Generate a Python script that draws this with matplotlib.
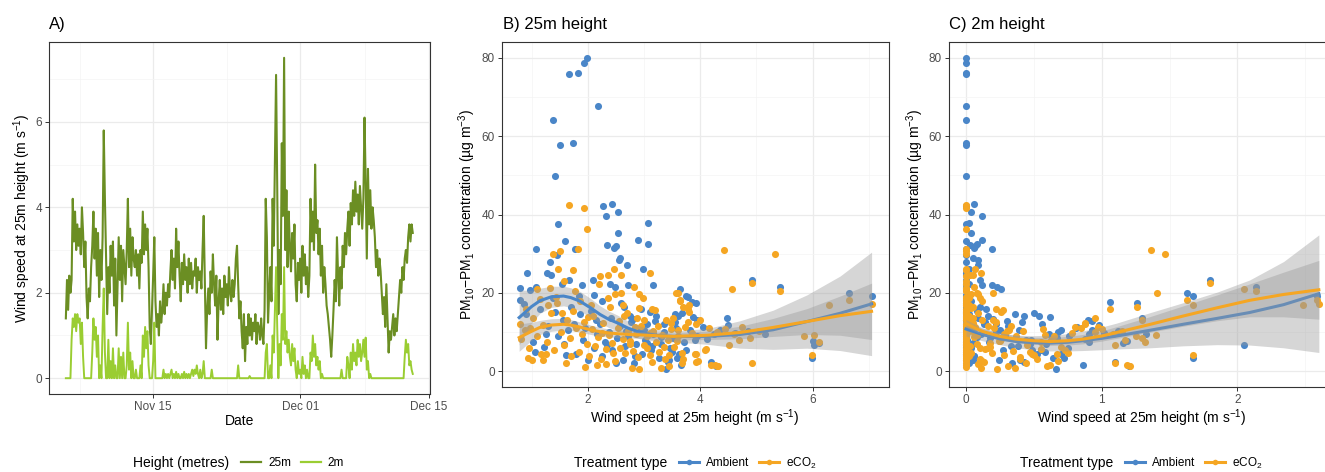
import numpy as np
import pandas as pd
import matplotlib
matplotlib.use('Agg')
import matplotlib.pyplot as plt
from matplotlib.lines import Line2D

plt.rcParams['font.family'] = ['Liberation Sans', 'DejaVu Sans']
plt.rcParams['mathtext.fontset'] = 'custom'
plt.rcParams['mathtext.rm'] = 'Liberation Sans'
plt.rcParams['mathtext.it'] = 'Liberation Sans:italic'

# ── Panel A: 3-hourly wind speed, starting 5 Nov 12:00 ─────────────────────
ws_25m = [
    1.4, 2.3, 1.6, 2.4,                              # Nov 05 (12h-21h)
    2.0, 2.3, 4.2, 3.2, 3.9, 3.0, 3.6, 3.1,          # Nov 06
    3.5, 2.9, 4.0, 3.4, 2.6, 3.2, 1.9, 1.4,
    2.1, 1.8, 2.6, 3.1, 3.9, 2.8, 3.5, 2.4,
    3.4, 1.9, 3.0, 2.3, 3.3, 5.8, 4.2, 2.9,
    1.5, 2.6, 2.0, 3.1, 2.4, 3.2, 1.7, 2.8,          # Nov 10
    1.0, 2.2, 3.3, 2.3, 3.1, 1.8, 3.0, 2.6,
    2.2, 3.0, 4.2, 2.6, 3.5, 2.4, 3.3, 2.8,
    2.6, 3.0, 2.4, 2.9, 2.1, 3.0, 2.7, 3.9,
    2.9, 3.6, 3.0, 3.5, 2.6, 1.2, 0.8, 1.6,
    2.4, 3.3, 1.8, 1.2, 1.5, 1.0, 1.8, 1.3,          # Nov 15
    1.6, 2.2, 1.5, 2.0, 1.7, 2.2, 1.9, 2.5,
    3.0, 2.3, 2.8, 2.1, 3.5, 2.6, 3.2, 2.4,
    1.8, 2.7, 2.2, 2.9, 2.3, 2.6, 2.0, 2.8,
    2.2, 2.7, 2.1, 2.5, 2.4, 2.8, 2.0, 2.6,
    2.3, 2.5, 2.1, 3.0, 3.8, 2.2, 0.7, 1.6,          # Nov 20
    2.1, 1.5, 2.5, 2.0, 2.9, 2.2, 1.7, 2.4,
    0.9, 1.8, 2.3, 1.6, 2.1, 1.5, 2.4, 1.9,
    2.2, 1.7, 2.6, 2.0, 1.8, 2.3, 1.9, 2.2,
    2.8, 3.1, 2.2, 1.4, 1.8, 1.1, 0.7, 1.5,
    0.4, 1.2, 0.8, 1.5, 1.0, 1.4, 0.9, 1.3,          # Nov 25
    1.1, 1.5, 0.8, 1.3, 1.2, 0.9, 1.4, 1.0,
    0.8, 1.6, 4.2, 3.3, 1.3, 2.0, 2.6, 1.8,
    4.2, 3.1, 5.2, 7.1, 4.5, 1.5, 3.0, 2.2,
    5.5, 3.8, 7.5, 3.0, 4.4, 2.6, 3.9, 3.1,
    2.5, 3.4, 2.8, 3.6, 2.2, 1.8, 2.7, 2.3,          # Nov 30
    2.8, 2.0, 3.1, 2.4, 2.9, 2.2, 2.6, 1.9,          # Dec 01
    2.4, 4.2, 3.2, 3.9, 3.0, 5.0, 3.4, 3.7,
    2.9, 3.5, 2.4, 3.1, 2.0, 2.6, 2.2, 1.7,
    1.5, 1.2, 0.9, 0.5, 1.0, 1.6, 2.3, 1.8,
    3.3, 2.4, 1.7, 2.6, 2.1, 3.1, 2.6, 3.4,          # Dec 05
    2.9, 3.5, 3.9, 3.1, 4.1, 3.6, 4.4, 3.8,
    4.6, 3.9, 4.3, 3.6, 4.5, 4.0, 3.5, 4.2,
    6.1, 4.6, 2.8, 4.9, 3.6, 4.4, 3.5, 4.0,
    3.7, 3.3, 2.6, 3.0, 2.4, 2.8, 2.5, 2.0,
    1.5, 1.9, 1.2, 2.2, 1.4, 0.6, 1.1, 0.9,          # Dec 10
    1.2, 1.5, 1.0, 1.4, 1.1, 1.5, 1.9, 2.3,
    2.0, 2.6, 2.3, 2.8, 3.0, 2.7, 3.3, 3.6,
    3.2, 3.6, 3.4,                                   # Dec 13
]
ws_2m = [
    0, 0, 0, 0,
    0, 0.9, 1.4, 1.2, 1.5, 1.1, 1.5, 1.3,
    1.4, 0.8, 1.3, 0.5, 0, 0, 0, 0,
    0, 0, 0, 0.6, 1.4, 0.9, 1.2, 0.5,
    1.0, 0, 0.3, 0, 1.2, 2.1, 0.6, 0,
    0, 0.9, 0, 0.4, 0, 0.7, 0, 0.3,
    0, 0, 0.7, 0, 0.5, 0, 0.6, 0,
    0, 0.3, 1.3, 0.2, 0.6, 0, 0.4, 0,
    0, 0.2, 0, 0, 0, 0.3, 0, 1.0,
    0.5, 1.2, 0.7, 1.1, 0.3, 0, 0, 0,
    0.4, 1.3, 0, 0, 0, 0, 0, 0,
    0, 0.2, 0, 0.1, 0, 0.1, 0, 0.1,
    0.2, 0, 0.1, 0, 0.15, 0, 0.1, 0,
    0, 0.1, 0, 0.15, 0, 0.1, 0, 0.1,
    0, 0.1, 0.2, 0.05, 0.2, 0.1, 0.3, 0.1,
    0, 0.2, 0, 0.1, 0.4, 0, 0, 0,
    0, 0, 0, 0.2, 0, 0, 0, 0,
    0, 0, 0, 0, 0, 0, 0, 0,
    0, 0, 0, 0, 0, 0, 0, 0,
    0, 0, 0.3, 0, 0, 0, 0, 0,
    0, 0, 0, 0, 0.05, 0, 0, 0,
    0, 0, 0, 0, 0, 0, 0, 0,
    0, 0, 0.6, 0.8, 0, 0, 0.3, 0,
    1.0, 0.6, 1.6, 2.6, 1.2, 0, 0.8, 0.3,
    1.5, 0.9, 2.6, 0.8, 1.1, 0.6, 0.9, 0.5,
    0.3, 0.8, 0.4, 0.7, 0.2, 0, 0.4, 0.1,
    0.2, 0, 0.5, 0.1, 0.3, 0, 0.2, 0,
    0, 0.6, 0.4, 1.0, 0.5, 0.8, 0.3, 0.5,
    0.2, 0.4, 0, 0.1, 0, 0, 0, 0,
    0, 0, 0, 0, 0, 0, 0, 0,
    0, 0, 0, 0, 0.2, 0, 0, 0,
    0, 0.5, 0.3, 0, 0.6, 0.2, 0.8, 0.4,
    0.6, 0.3, 0.9, 0.5, 0.8, 0.4, 0.6, 0.9,
    0.5, 0.95, 0.2, 0.4, 0, 0.1, 0, 0,
    0, 0, 0, 0, 0, 0, 0, 0,
    0, 0, 0, 0, 0, 0, 0, 0,
    0, 0, 0, 0, 0, 0, 0, 0,
    0, 0, 0, 0.5, 0.9, 0.6, 0.8, 0.3,
    0.4, 0.2, 0.1,
]

# ── Panels B/C: PM10-PM1 vs wind speed at 25m and 2m, per treatment ───────
amb_ws25 = [1.98, 1.93, 1.82, 1.66, 2.18, 1.38, 1.50, 1.73, 1.42, 2.27,
            2.43, 2.54, 2.32, 1.48, 3.07, 2.54, 2.89, 3.08, 1.60, 2.34,
            2.46, 2.50, 1.08, 1.77, 1.45, 1.33, 2.56, 2.57, 2.70, 2.98,
            1.27, 1.34, 0.92, 3.17, 2.09, 2.48, 1.67, 1.54, 0.79, 1.08,
            0.98, 3.64, 2.72, 3.78, 2.12, 1.84, 0.80, 0.86, 1.39, 4.93,
            5.42, 7.05, 6.65, 3.74, 6.02, 5.99, 4.20, 4.28, 4.47, 3.92,
            3.86, 6.00, 6.12, 4.35, 4.62, 4.05, 4.85, 5.15, 3.95, 4.12,
            4.50, 3.82, 4.25, 3.55, 3.60, 3.68, 3.88, 3.42, 3.50, 3.62,
            3.95, 3.98, 3.40, 3.58, 3.20, 3.00, 2.80, 2.75, 1.02, 1.06,
            1.15, 1.22, 1.30, 1.41, 1.47, 1.56, 1.62, 1.65, 1.71, 1.76,
            1.80, 1.87, 1.91, 1.96, 2.01, 2.06, 2.11, 2.16, 2.21, 2.26,
            2.31, 2.37, 2.41, 2.44, 2.52, 2.58, 2.62, 2.66, 2.71, 2.77,
            2.83, 2.86, 2.91, 2.96, 3.02, 3.06, 3.12, 3.16, 3.22, 3.26,
            3.31, 3.36, 3.46, 3.52, 3.57, 3.66, 3.72, 3.10, 2.60, 2.40,
            1.90, 2.25, 2.65, 2.95, 3.35, 3.15, 2.85, 2.50, 3.45, 3.75,
            3.90, 2.15, 1.58, 1.25, 0.90, 3.55, 3.30, 2.68, 3.05, 2.35]
amb_ws2 = [0, 0, 0, 0, 0, 0, 0, 0, 0, 0,
           0.06, 0.04, 0.12, 0, 0.02, 0.04, 0.12, 0.08, 0, 0.03,
           0.06, 0.07, 0, 0.19, 0, 0, 0.09, 0.05, 0.09, 0.02,
           0, 0, 0, 0.12, 0.10, 0.23, 0, 0, 0, 0,
           0, 0.26, 0.19, 0.02, 0, 0, 0, 0, 0, 1.80,
           2.14, 2.59, 1.63, 1.67, 2.05, 1.67, 1.10, 1.20, 1.30, 1.26,
           1.06, 1.19, 1.16, 0.93, 1.02, 0.82, 1.12, 1.33, 0.76, 0.88,
           0.98, 0.70, 0.91, 0.36, 0.43, 0.50, 0.62, 0.43, 0.58, 0.70,
           0.90, 0.93, 0.66, 0.72, 0.30, 0.25, 0.20, 0.16, 0, 0,
           0, 0, 0, 0, 0, 0, 0, 0, 0, 0,
           0, 0.02, 0.01, 0.03, 0.05, 0.08, 0.04, 0.11, 0.13, 0.06,
           0.17, 0.22, 0.09, 0.27, 0.18, 0.31, 0.24, 0.38, 0.29, 0.41,
           0.34, 0.47, 0.39, 0.52, 0.44, 0.56, 0.49, 0.61, 0.54, 0.64,
           0.59, 0.68, 0.75, 0.67, 0.81, 0.86, 0.91, 0, 0, 0.02,
           0, 0.04, 0.10, 0.15, 0.22, 0.33, 0.06, 0.02, 0.40, 0.55,
           0.48, 0, 0, 0, 0, 0.14, 0.08, 0, 0.05, 0]
amb_pm = [80.0, 78.6, 76.2, 75.9, 67.6, 64.0, 57.8, 58.2, 49.8, 42.2,
          42.6, 40.6, 39.5, 37.5, 37.8, 35.3, 33.6, 32.4, 33.3, 32.3,
          31.5, 32.0, 31.1, 31.1, 29.7, 27.8, 28.3, 28.9, 27.0, 26.1,
          25.1, 24.6, 25.1, 21.9, 23.3, 21.5, 23.4, 22.3, 21.2, 21.5,
          20.8, 21.0, 22.0, 19.0, 19.4, 19.2, 18.3, 17.1, 18.7, 23.4,
          21.6, 19.3, 20.0, 19.1, 6.7, 3.5, 2.5, 1.4, 13.7, 17.3,
          17.8, 7.8, 7.3, 10.5, 9.8, 11.2, 10.3, 9.6, 9.1, 8.2,
          11.8, 10.6, 9.4, 14.6, 14.0, 15.0, 13.8, 2.3, 5.0, 4.5,
          13.0, 12.8, 0.5, 3.5, 12.8, 10.5, 13.3, 14.2, 7.5, 5.0,
          16.0, 6.2, 11.5, 15.2, 9.0, 13.0, 4.2, 10.5, 16.5, 12.0,
          4.3, 14.5, 8.0, 11.0, 3.0, 15.5, 6.0, 9.5, 12.0, 4.0,
          7.5, 10.0, 13.5, 5.5, 8.5, 11.5, 3.0, 6.5, 9.0, 12.5,
          2.0, 7.0, 10.5, 4.5, 8.0, 12.0, 5.5, 9.5, 14.0, 3.5,
          7.0, 10.0, 6.0, 8.5, 11.0, 1.5, 7.5, 15.2, 17.5, 22.2,
          22.0, 18.0, 16.5, 15.8, 12.0, 6.5, 4.0, 2.0, 3.0, 5.5,
          8.0, 13.0, 7.0, 9.5, 14.5, 12.5, 8.8, 10.2, 7.2, 6.8]

eco_ws25 = [4.42, 5.33, 4.93, 5.42, 4.56, 6.29, 6.65, 7.05, 5.84, 6.02,
            5.99, 4.93, 4.20, 4.30, 4.52, 4.69, 4.88, 3.90, 3.96, 4.09,
            6.12, 3.60, 3.65, 3.81, 3.78, 3.70, 4.00, 4.30, 4.60, 4.15,
            3.85, 4.45, 5.05, 4.75, 3.93, 1.66, 1.93, 1.98, 1.82, 1.38,
            1.50, 1.73, 1.48, 2.22, 2.36, 2.47, 2.59, 3.10, 1.33, 1.09,
            0.90, 2.82, 2.91, 2.99, 3.57, 3.65, 3.81, 3.78, 2.36, 2.48,
            2.59, 3.15, 3.20, 2.87, 0.93, 1.00, 1.26, 2.17, 2.78, 2.91,
            3.44, 3.68, 3.93, 4.11, 3.93, 4.26, 4.31, 0.80, 0.82, 0.88,
            0.95, 1.03, 1.10, 1.16, 1.21, 1.28, 1.35, 1.40, 1.46, 1.52,
            1.58, 1.63, 1.69, 1.74, 1.79, 1.84, 1.89, 1.94, 1.99, 2.03,
            2.08, 2.13, 2.18, 2.23, 2.28, 2.33, 2.38, 2.43, 2.48, 2.53,
            2.57, 2.62, 2.67, 2.72, 2.76, 2.81, 2.86, 2.90, 2.95, 3.00,
            3.05, 3.11, 3.16, 3.21, 3.27, 3.32, 3.38, 3.43, 3.49, 3.54,
            3.61, 3.67, 3.73, 3.48, 3.52, 1.57, 1.43, 1.86, 2.05, 1.20,
            1.62, 2.32, 3.30, 2.65, 2.10, 2.40, 2.70, 3.00, 3.25, 3.40,
            3.60, 2.25, 2.55, 2.85, 3.15, 3.35, 3.58, 3.70, 1.70, 1.95,
            2.45, 2.75, 3.05, 3.45, 1.30, 1.15, 0.98, 1.55, 1.78, 2.00,
            2.20, 2.62, 2.92, 3.10]
eco_ws2 = [1.36, 1.47, 1.80, 2.14, 2.05, 2.48, 2.59, 2.60, 1.25, 1.40,
           1.67, 1.10, 1.19, 1.21, 1.10, 1.17, 1.30, 0.67, 0.68, 0.73,
           1.32, 1.41, 1.63, 1.67, 1.06, 1.26, 1.30, 0.95, 1.08, 0.85,
           0.78, 1.00, 1.15, 0.97, 0.88, 0, 0, 0, 0, 0,
           0, 0, 0, 0, 0.05, 0.07, 0.03, 0.11, 0, 0,
           0, 0.06, 0.09, 0.10, 0.20, 0.12, 0.26, 0.22, 0.02, 0.04,
           0.08, 0.22, 0.27, 0.05, 0, 0, 0, 0, 0.11, 0.23,
           0.31, 0.44, 0.10, 0.55, 0.49, 0.62, 0.60, 0, 0, 0,
           0, 0, 0, 0, 0, 0, 0, 0, 0, 0,
           0, 0, 0, 0, 0, 0, 0, 0.01, 0, 0.02,
           0.04, 0.03, 0.06, 0.10, 0.05, 0.14, 0.08, 0.18, 0.12, 0.21,
           0.16, 0.26, 0.19, 0.30, 0.25, 0.35, 0.28, 0.40, 0.33, 0.45,
           0.37, 0.50, 0.42, 0.55, 0.47, 0.58, 0.52, 0.63, 0.57, 0.70,
           0.65, 0.75, 0.80, 0.88, 0.95, 0, 0, 0, 0, 0,
           0, 0.09, 0.36, 0, 0.02, 0.05, 0.09, 0.12, 0.16, 0.20,
           0.32, 0.01, 0.03, 0.07, 0.13, 0.18, 0.24, 0.40, 0, 0,
           0.04, 0.08, 0.10, 0.28, 0, 0, 0, 0, 0, 0,
           0, 0.02, 0.04, 0.06]
eco_pm = [31.0, 30.0, 22.6, 20.6, 20.9, 17.0, 18.3, 17.1, 9.0, 9.2,
          4.2, 2.0, 1.6, 1.3, 6.6, 8.0, 8.4, 4.5, 2.6, 5.5,
          7.5, 20.0, 18.2, 17.0, 15.8, 16.4, 13.0, 10.0, 9.5, 11.0,
          9.8, 10.8, 10.2, 11.4, 12.0, 42.5, 41.6, 36.4, 31.1, 29.9,
          30.7, 25.9, 26.0, 24.2, 24.5, 26.2, 24.5, 25.2, 21.2, 20.9,
          16.0, 21.4, 19.6, 18.8, 20.1, 18.0, 15.2, 12.7, 18.8, 19.6,
          20.1, 16.0, 15.6, 13.5, 3.5, 3.0, 4.3, 1.6, 0.8, 0.6,
          1.3, 2.0, 2.5, 5.6, 4.3, 1.6, 1.3, 12.0, 8.3, 10.5,
          6.0, 13.5, 9.0, 4.5, 11.8, 7.5, 14.8, 5.5, 17.5, 10.0,
          6.8, 13.0, 8.5, 15.5, 11.0, 5.0, 9.5, 12.5, 7.0, 4.0,
          10.8, 6.5, 8.8, 3.2, 12.2, 5.8, 9.2, 7.2, 2.6, 11.0,
          6.0, 8.2, 4.8, 10.2, 7.8, 5.2, 9.6, 3.6, 11.6, 6.8,
          8.9, 4.2, 10.4, 7.4, 5.0, 9.3, 3.1, 8.0, 10.8, 6.3,
          9.0, 4.8, 11.3, 12.3, 13.6, 23.0, 19.0, 18.0, 16.8, 2.8,
          2.2, 1.8, 0.9, 14.2, 14.0, 16.5, 14.8, 13.2, 11.5, 13.0,
          10.5, 9.8, 12.8, 11.2, 2.4, 6.2, 7.8, 3.2, 3.8, 1.2,
          4.6, 6.9, 5.9, 4.1, 16.8, 18.5, 11.0, 15.0, 20.5, 13.8,
          22.3, 17.0, 16.2, 9.9]

# smoothed fits (loess) with standard-error half widths
fitB_x = [0.78, 1.0, 1.15, 1.35, 1.57, 1.7, 1.86, 2.05, 2.22, 2.37, 2.52,
          2.72, 2.93, 3.2, 3.52, 4.12, 4.71, 5.30, 5.90, 6.49, 7.05]
fitB_amb = [13.7, 16.5, 18.0, 19.0, 19.2, 18.8, 17.9, 16.2, 14.5, 13.3, 12.4,
            11.0, 9.9, 9.2, 8.9, 8.9, 9.4, 10.6, 12.7, 14.8, 17.2]
seB_amb = [7.0, 4.2, 3.2, 2.7, 2.5, 2.5, 2.5, 2.4, 2.2, 2.1, 2.0,
           1.8, 1.6, 1.5, 1.4, 2.0, 3.5, 5.0, 6.8, 9.5, 13.2]
fitB_eco = [8.6, 10.2, 11.2, 11.8, 12.0, 11.8, 11.3, 10.6, 10.1, 9.8, 9.6,
            9.4, 9.3, 9.1, 8.9, 9.2, 9.9, 11.2, 12.7, 14.2, 15.3]
seB_eco = [3.5, 2.3, 1.8, 1.6, 1.5, 1.4, 1.3, 1.2, 1.1, 1.0, 1.0,
           0.9, 0.9, 0.9, 0.9, 1.1, 1.6, 2.3, 3.3, 5.0, 7.2]

fitC_x = [0.0, 0.12, 0.25, 0.37, 0.5, 0.62, 0.75, 0.86, 1.0, 1.11,
          1.36, 1.6, 1.85, 2.09, 2.34, 2.6]
fitC_amb = [10.8, 9.4, 8.3, 7.6, 7.3, 7.2, 7.4, 7.8, 8.4, 9.0,
            10.5, 12.0, 13.5, 15.0, 17.0, 19.8]
seC_amb = [1.8, 1.6, 1.5, 1.6, 1.8, 2.0, 2.2, 2.5, 2.9, 3.3,
           4.5, 5.5, 6.7, 8.3, 11.0, 15.0]
fitC_eco = [12.2, 10.2, 8.9, 8.2, 7.8, 7.6, 7.8, 8.2, 9.0, 9.9,
            12.0, 14.1, 16.2, 18.1, 19.6, 20.8]
seC_eco = [1.0, 0.9, 0.9, 0.9, 0.9, 1.0, 1.1, 1.2, 1.3, 1.5,
           2.0, 2.6, 3.3, 4.2, 5.7, 7.5]

# ── colours / figure ──────────────────────────────────────────────────────
C25, C2 = '#6B8E23', '#9ACD32'
CAMB, CECO = '#4A86C8', '#F5A623'
TICK_C = '#4D4D4D'

W, H = 1325, 472
fig = plt.figure(figsize=(W / 100, H / 100), dpi=100)

def box(l, t, r, b):
    return [l / W, 1 - b / H, (r - l) / W, (b - t) / H]

ax_a = fig.add_axes(box(49, 42, 430, 394))
ax_b = fig.add_axes(box(502, 42, 889, 387))
ax_c = fig.add_axes(box(949, 42, 1327, 387))

def style(ax):
    for s in ax.spines.values():
        s.set_color('#333333')
        s.set_linewidth(0.8)
    ax.grid(which='major', color='#EBEBEB', lw=0.9)
    ax.grid(which='minor', color='#F4F4F4', lw=0.5)
    ax.set_axisbelow(True)
    ax.tick_params(which='major', length=3, width=0.7, color='#333333',
                   labelsize=8.5, labelcolor=TICK_C, pad=2)
    ax.tick_params(which='minor', length=0)

# ── A ──
times = pd.date_range('2019-11-05 12:00', periods=len(ws_25m), freq='3h')
ax_a.plot(times, ws_25m, color=C25, lw=1.5, zorder=3)
ax_a.plot(times, ws_2m, color=C2, lw=1.4, zorder=4)
ax_a.set_xlim(pd.Timestamp('2019-11-03 16:00'), pd.Timestamp('2019-12-15 03:00'))
ax_a.set_ylim(-0.37, 7.87)
ax_a.set_xticks(pd.to_datetime(['2019-11-15', '2019-12-01', '2019-12-15']))
ax_a.set_xticklabels(['Nov 15', 'Dec 01', 'Dec 15'])
ax_a.set_xticks(pd.to_datetime(['2019-11-07', '2019-11-23', '2019-12-08']), minor=True)
ax_a.set_yticks([0, 2, 4, 6])
ax_a.set_yticks([1, 3, 5, 7], minor=True)
style(ax_a)

# ── B / C ──
def scatter_panel(ax, xa, xe, fx, fa, sa, fe, se):
    ax.scatter(xa, amb_pm, s=26, color=CAMB, linewidths=0, zorder=2)
    ax.scatter(xe, eco_pm, s=26, color=CECO, linewidths=0, zorder=2)
    fx, fa, sa, fe, se = map(np.asarray, (fx, fa, sa, fe, se))
    ax.fill_between(fx, fa - sa, fa + sa, color='#999999', alpha=0.4, lw=0, zorder=3)
    ax.plot(fx, fa, color=CAMB, lw=2.2, zorder=4)
    ax.fill_between(fx, fe - se, fe + se, color='#999999', alpha=0.4, lw=0, zorder=5)
    ax.plot(fx, fe, color=CECO, lw=2.2, zorder=6)
    ax.set_ylim(-4, 84)
    ax.set_yticks([0, 20, 40, 60, 80])
    ax.set_yticks([10, 30, 50, 70], minor=True)
    style(ax)

scatter_panel(ax_b, amb_ws25, eco_ws25, fitB_x, fitB_amb, seB_amb, fitB_eco, seB_eco)
ax_b.set_xlim(0.475, 7.36)
ax_b.set_xticks([2, 4, 6])
ax_b.set_xticks([1, 3, 5, 7], minor=True)

scatter_panel(ax_c, amb_ws2, eco_ws2, fitC_x, fitC_amb, seC_amb, fitC_eco, seC_eco)
ax_c.set_xlim(-0.125, 2.66)
ax_c.set_xticks([0, 1, 2])
ax_c.set_xticks([0.5, 1.5, 2.5], minor=True)

# ── texts ──
def ftext(x, y, s, **kw):
    fig.text(x / W, 1 - y / H, s, **kw)

ftext(49, 25, 'A)', fontsize=12, va='center')
ftext(503, 25, 'B) 25m height', fontsize=12, va='center')
ftext(949, 25, 'C) 2m height', fontsize=12, va='center')

ws_label = 'Wind speed at 25m height (m s$^{-1}$)'
pm_label = 'PM$_{10}$\u2212PM$_1$ concentration (\u00b5g m$^{-3}$)'
ftext(22, 218, ws_label, fontsize=10, rotation=90, ha='center', va='center')
ftext(467, 214, pm_label, fontsize=10, rotation=90, ha='center', va='center')
ftext(915, 214, pm_label, fontsize=10, rotation=90, ha='center', va='center')
ftext(240, 421, 'Date', fontsize=10, ha='center', va='center')
ftext(695, 418, ws_label, fontsize=10, ha='center', va='center')
ftext(1142, 418, ws_label, fontsize=10, ha='center', va='center')

# ── legends ──
LY = 463
ftext(133, LY, 'Height (metres)', fontsize=10, va='center')
ftext(574, LY, 'Treatment type', fontsize=10, va='center')
ftext(1020, LY, 'Treatment type', fontsize=10, va='center')

h_height = [Line2D([], [], color=C25, lw=1.6), Line2D([], [], color=C2, lw=1.6)]
h_treat = [Line2D([], [], color=CAMB, lw=2.2, marker='o', ms=4, mew=0),
           Line2D([], [], color=CECO, lw=2.2, marker='o', ms=4, mew=0)]
leg_kw = dict(loc='center left', ncol=2, frameon=False, fontsize=8.5,
              handlelength=1.7, handletextpad=0.6, columnspacing=0.8,
              borderpad=0, borderaxespad=0)
fig.legend(h_height, ['25m', '2m'], bbox_to_anchor=(241 / W, 1 - LY / H), **leg_kw)
fig.legend(h_treat, ['Ambient', 'eCO$_2$'], bbox_to_anchor=(679 / W, 1 - LY / H), **leg_kw)
fig.legend(h_treat, ['Ambient', 'eCO$_2$'], bbox_to_anchor=(1125 / W, 1 - LY / H), **leg_kw)

fig.savefig('out.png', dpi=100)
